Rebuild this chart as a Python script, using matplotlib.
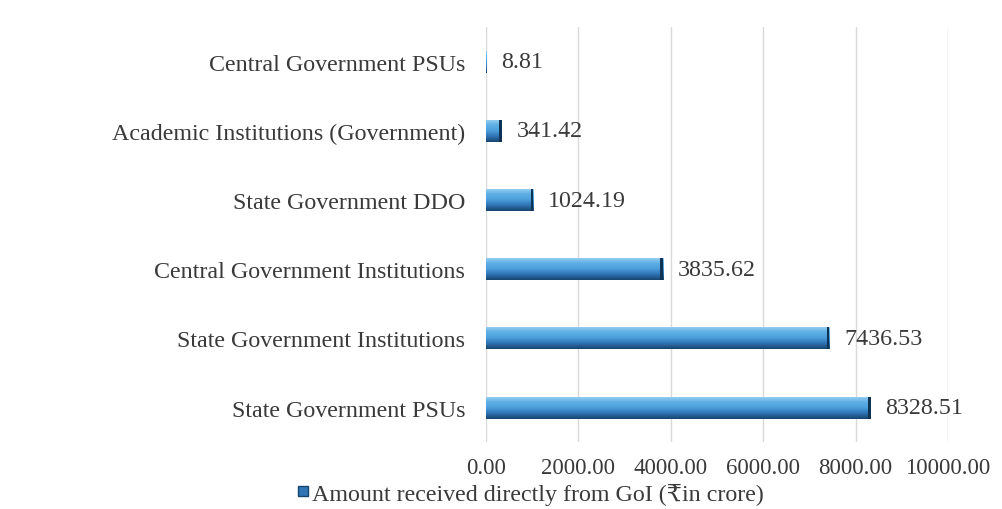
import numpy as np
import matplotlib.pyplot as plt
from matplotlib.colors import LinearSegmentedColormap
from matplotlib.patches import Rectangle
from matplotlib.lines import Line2D

plt.rcParams['font.family'] = ['Liberation Serif', 'DejaVu Serif', 'DejaVu Sans']

# dados
categorias = ['State Government PSUs', 'State Government Institutions',
              'Central Government Institutions', 'State Government DDO',
              'Academic Institutions (Government)', 'Central Government PSUs']
valores = [8328.51, 7436.53, 3835.62, 1024.19, 341.42, 8.81]
rotulos = ['8328.51', '7436.53', '3835.62', '1024.19', '341.42', '8.81']
xticks = [0, 2000, 4000, 6000, 8000, 10000]
legenda = 'Amount received directly from GoI (₹in crore)'

FS = 17.3
FS_TICK = 16.5
COR_TXT = '#3a3a3a'

fig = plt.figure(figsize=(10.02, 5.1), dpi=100)
ax = fig.add_axes([0.485, 0.131, 0.461, 0.814])

cmap = LinearSegmentedColormap.from_list('cil', ['#17456e', '#2f74b5', '#4c9fdc', '#5fb0e6', '#9fd3f2'])
grad = np.linspace(0, 1, 64).reshape(-1, 1)
h = 0.32
y = np.arange(len(categorias))
for yi, v in zip(y, valores):
    r = Rectangle((0, yi - h/2), v, h, facecolor='none', edgecolor='none')
    ax.add_patch(r)
    im = ax.imshow(grad, cmap=cmap, aspect='auto', origin='lower',
                   extent=[0, v, yi - h/2, yi + h/2], zorder=2)
    im.set_clip_path(r)
    # ponta escura
    ax.add_patch(Rectangle((v - min(60, v*0.3), yi - h/2), min(60, v*0.3), h,
                           facecolor='#0f3354', edgecolor='none', zorder=3))

for yi, v, t in zip(y, valores, rotulos):
    ax.text(v + 320, yi, t, va='center', ha='left', fontsize=FS, color=COR_TXT)

ax.set_xlim(0, 10000)
ax.set_ylim(-0.5, 5.5)
ax.set_xticks(xticks)
ax.set_xticklabels([f'{t:.2f}' for t in xticks], fontsize=FS_TICK, color=COR_TXT)
ax.set_yticks(y)
ax.set_yticklabels(categorias, fontsize=FS, color=COR_TXT)
ax.tick_params(length=0)
ax.tick_params(axis='x', pad=11)
ax.tick_params(axis='y', pad=15)
ax.grid(True, axis='x', color='#d9d9d9', lw=1)
ax.set_axisbelow(True)
for s in ax.spines.values():
    s.set_visible(False)

h1 = Line2D([], [], marker='s', ls='none', markersize=7,
            markerfacecolor='#2f74b5', markeredgecolor='#17456e')
fig.legend([h1], [legenda], loc='center left', bbox_to_anchor=(0.286, 0.03),
           frameon=False, fontsize=FS, handletextpad=0.05, borderaxespad=0,
           handlelength=0.6, labelcolor=COR_TXT)

fig.savefig('out.png', dpi=100)
